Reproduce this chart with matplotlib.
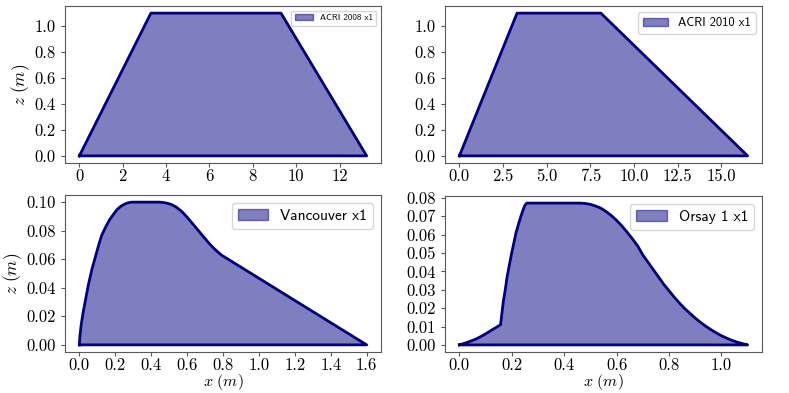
import matplotlib
matplotlib.use("Agg")
import matplotlib.pyplot as plt

plt.rcParams['font.family'] = ['cmr10']
plt.rcParams['mathtext.fontset'] = 'cm'
plt.rcParams['axes.formatter.use_mathtext'] = True

# ACRI 2008
acri08_x = [0.0, 3.3, 9.3, 13.25, 0.0]
acri08_z = [0.0, 1.1, 1.1, 0.0, 0.0]
acri08_xticks = [0, 2, 4, 6, 8, 10, 12]
acri08_xlabels = ['0', '2', '4', '6', '8', '10', '12']
acri08_zticks = [0.0, 0.2, 0.4, 0.6, 0.8, 1.0]
acri08_zlabels = ['0.0', '0.2', '0.4', '0.6', '0.8', '1.0']

# ACRI 2010
acri10_x = [0.0, 3.3, 8.1, 16.5, 0.0]
acri10_z = [0.0, 1.1, 1.1, 0.0, 0.0]
acri10_xticks = [0.0, 2.5, 5.0, 7.5, 10.0, 12.5, 15.0]
acri10_xlabels = ['0.0', '2.5', '5.0', '7.5', '10.0', '12.5', '15.0']
acri10_zticks = [0.0, 0.2, 0.4, 0.6, 0.8, 1.0]
acri10_zlabels = ['0.0', '0.2', '0.4', '0.6', '0.8', '1.0']

# Vancouver
van_x = [0.0, 0.003, 0.01, 0.02, 0.035, 0.05, 0.07, 0.09, 0.11, 0.125, 0.15, 0.17,
         0.19, 0.21, 0.23, 0.25, 0.27, 0.29, 0.45, 0.48, 0.51, 0.54, 0.57, 0.60, 0.63,
         0.66, 0.69, 0.72, 0.75, 0.79, 1.6, 0.0]
van_z = [0.0, 0.006, 0.014, 0.022, 0.032, 0.042, 0.053, 0.062, 0.071, 0.077, 0.0835, 0.088,
         0.0915, 0.0948, 0.097, 0.0985, 0.0995, 0.1, 0.1, 0.0995, 0.0985, 0.0965, 0.0935,
         0.0895, 0.085, 0.0805, 0.076, 0.0715, 0.0675, 0.063, 0.0, 0.0]
van_xticks = [0.0, 0.2, 0.4, 0.6, 0.8, 1.0, 1.2, 1.4, 1.6]
van_xlabels = ['0.0', '0.2', '0.4', '0.6', '0.8', '1.0', '1.2', '1.4', '1.6']
van_zticks = [0.00, 0.02, 0.04, 0.06, 0.08, 0.10]
van_zlabels = ['0.00', '0.02', '0.04', '0.06', '0.08', '0.10']

# Orsay 1
ors_x = [0.0, 0.02, 0.04, 0.06, 0.08, 0.10, 0.12, 0.14, 0.157,
         0.162, 0.168, 0.175, 0.182, 0.19, 0.198, 0.207, 0.216, 0.225, 0.234, 0.243, 0.25, 0.257,
         0.46, 0.48, 0.50, 0.52, 0.54, 0.56, 0.58, 0.60, 0.62, 0.64, 0.66, 0.68, 0.70, 0.72,
         0.74, 0.76, 0.78, 0.80, 0.82, 0.84, 0.86, 0.88, 0.90, 0.92, 0.94, 0.96, 0.98, 1.00,
         1.02, 1.04, 1.06, 1.08, 1.10, 0.0]
ors_z = [0.0, 0.0009, 0.0019, 0.003, 0.0044, 0.006, 0.0078, 0.0095, 0.011,
         0.017, 0.024, 0.030, 0.037, 0.043, 0.049, 0.055, 0.061, 0.0655, 0.0697, 0.0735, 0.076, 0.0772,
         0.0772, 0.0770, 0.0765, 0.0756, 0.0744, 0.0726, 0.0704, 0.0678, 0.0648, 0.0614, 0.0578,
         0.054, 0.049, 0.045, 0.041, 0.037, 0.033, 0.0295, 0.026, 0.0228, 0.0198, 0.0172, 0.0146,
         0.0123, 0.0102, 0.0083, 0.0066, 0.005, 0.0037, 0.0025, 0.0015, 0.0007, 0.0, 0.0]
ors_xticks = [0.0, 0.2, 0.4, 0.6, 0.8, 1.0]
ors_xlabels = ['0.0', '0.2', '0.4', '0.6', '0.8', '1.0']
ors_zticks = [0.00, 0.01, 0.02, 0.03, 0.04, 0.05, 0.06, 0.07, 0.08]
ors_zlabels = ['0.00', '0.01', '0.02', '0.03', '0.04', '0.05', '0.06', '0.07', '0.08']

panels = [
    (acri08_x, acri08_z, 'ACRI 2008 x1', 6.5, acri08_xticks, acri08_xlabels, acri08_zticks, acri08_zlabels),
    (acri10_x, acri10_z, 'ACRI 2010 x1', 9, acri10_xticks, acri10_xlabels, acri10_zticks, acri10_zlabels),
    (van_x, van_z, 'Vancouver x1', 11, van_xticks, van_xlabels, van_zticks, van_zlabels),
    (ors_x, ors_z, 'Orsay 1 x1', 11, ors_xticks, ors_xlabels, ors_zticks, ors_zlabels),
]

fig = plt.figure(figsize=(7.89, 3.93), dpi=100)
rects = [
    [65/789, 1-163/393, 316/789, 157/393],
    [445/789, 1-163/393, 317/789, 157/393],
    [65/789, 1-352/393, 316/789, 157/393],
    [445/789, 1-352/393, 317/789, 156/393],
]
for i, (xs, zs, lab, lfs, xt, xl, zt, zl) in enumerate(panels):
    ax = fig.add_axes(rects[i])
    ax.fill(xs, zs, color='navy', alpha=0.5, label=lab)
    ax.plot(xs, zs, color='navy', lw=2)
    ax.set_xticks(xt, xl)
    ax.set_yticks(zt, zl)
    ax.tick_params(labelsize=12, color='0.35', length=3)
    ax.tick_params(axis='x', pad=1)
    for s in ax.spines.values():
        s.set_color('0.35')
    ax.legend(loc='upper right', prop={'family': 'cmss10', 'size': lfs})
    if i % 2 == 0:
        ax.set_ylabel(r'$z\ (m)$', fontsize=12.5, labelpad=2)
    if i >= 2:
        ax.set_xlabel(r'$x\ (m)$', fontsize=11.5, labelpad=-0.5)

fig.savefig('out.png', dpi=100)
